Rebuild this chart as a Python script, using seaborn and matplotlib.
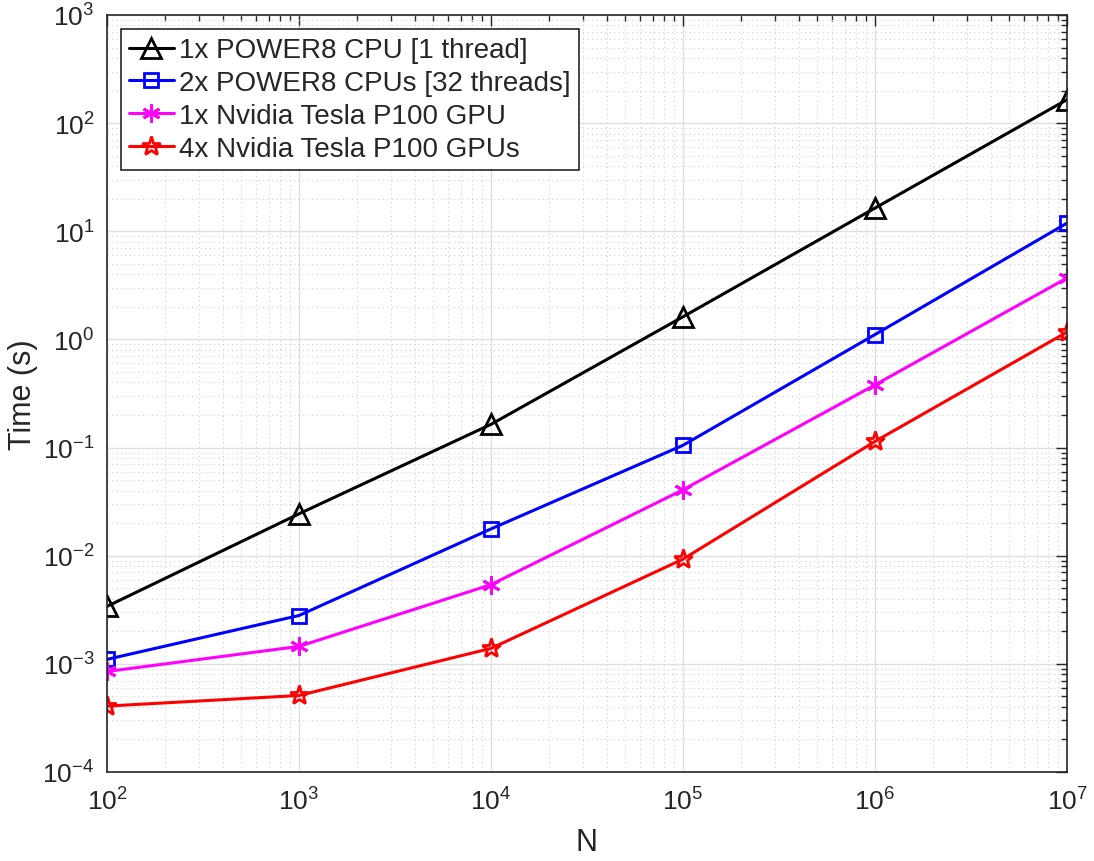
import numpy as np
import pandas as pd
import matplotlib
matplotlib.use("Agg")
import matplotlib.pyplot as plt
import seaborn as sns
from matplotlib.ticker import LogLocator, NullFormatter

N = [1e2, 1e3, 1e4, 1e5, 1e6, 1e7]
labels = ["1x POWER8 CPU [1 thread]", "2x POWER8 CPUs [32 threads]",
          "1x Nvidia Tesla P100 GPU", "4x Nvidia Tesla P100 GPUs"]
cpu1 = [3.4e-3, 0.0244, 0.164, 1.62, 16.4, 165]
cpu2 = [1.1e-3, 2.8e-3, 0.0177, 0.105, 1.11, 11.9]
gpu1 = [8.5e-4, 1.45e-3, 5.4e-3, 0.0407, 0.38, 3.7]
gpu4 = [4.07e-4, 5.1e-4, 1.39e-3, 9.3e-3, 0.114, 1.17]

colors = ["black", "#0000ff", "#ff00ff", "#ff0000"]
markers = ["^", "s", (6, 2, 0), "*"]
msizes = [14, 10, 13, 14]

df = pd.concat([
    pd.DataFrame({"N": N, "Time": v, "series": lab})
    for v, lab in zip([cpu1, cpu2, gpu1, gpu4], labels)
])

sns.set_style("white")
plt.rcParams["font.family"] = ["Liberation Sans", "DejaVu Sans"]
plt.rcParams["axes.unicode_minus"] = False
plt.rcParams["mathtext.fontset"] = "custom"
plt.rcParams["mathtext.rm"] = "Liberation Sans"
plt.rcParams["mathtext.it"] = "Liberation Sans"
plt.rcParams["mathtext.default"] = "regular"

fig = plt.figure(figsize=(10.94, 8.62), dpi=100)
ax = fig.add_axes([107/1094, 1-773/862, 960/1094, 757/862])

for lab, c, m, ms in zip(labels, colors, markers, msizes):
    sub = df[df["series"] == lab]
    kw = dict(marker=m, markersize=ms, markerfacecolor="none",
              markeredgecolor=c, markeredgewidth=2.0)
    sns.lineplot(data=sub, x="N", y="Time", color=c, linewidth=2.2,
                 label=lab, ax=ax, **kw)

ax.set_xscale("log")
ax.set_yscale("log")
ax.set_xlim(1e2, 1e7)
ax.set_ylim(1e-4, 1e3)
ax.yaxis.set_major_locator(LogLocator(base=10, numticks=20))
ax.yaxis.set_minor_locator(LogLocator(base=10, subs=np.arange(2, 10), numticks=20))
ax.xaxis.set_minor_locator(LogLocator(base=10, subs=np.arange(2, 10), numticks=20))
ax.yaxis.set_minor_formatter(NullFormatter())
ax.xaxis.set_minor_formatter(NullFormatter())

ax.grid(True, which="major", color="#e0e0e0", linewidth=1.0, linestyle="-")
ax.grid(True, which="minor", color="#d0d0d0", linewidth=0.8, linestyle=(0, (1, 3)))
ax.set_axisbelow(True)

ax.tick_params(which="both", direction="in", top=True, right=True,
               colors="#262626", labelsize=19)
ax.tick_params(which="major", length=8, width=1)
ax.tick_params(which="minor", length=4, width=1)
for s in ax.spines.values():
    s.set_color("#262626")
    s.set_linewidth(1.2)
ax.tick_params(axis="x", pad=11)
ax.tick_params(axis="y", pad=9)

ax.set_xlabel("N", fontsize=22, color="#262626", labelpad=9)
ax.set_ylabel("Time (s)", fontsize=22, color="#262626", labelpad=3)

leg = ax.legend(loc="upper left", fontsize=20, frameon=True, fancybox=False,
                edgecolor="#262626", framealpha=1, borderpad=0.3,
                handlelength=1.6, handletextpad=0.2, labelspacing=0.25,
                borderaxespad=0.5)
leg.get_frame().set_linewidth(1.2)

fig.savefig("out.png", dpi=100)
